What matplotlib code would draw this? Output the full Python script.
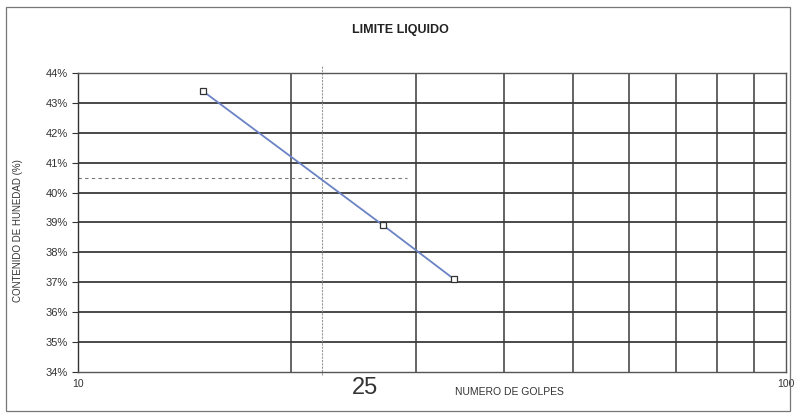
import numpy as np
import matplotlib
matplotlib.use("Agg")
import matplotlib.pyplot as plt
from matplotlib.patches import Rectangle
from matplotlib.ticker import FixedLocator, NullFormatter, NullLocator
from matplotlib import font_manager

# fuente estrecha si existe, si no la normal
nombres = {f.name for f in font_manager.fontManager.ttflist}
estrecha = [n for n in ['Liberation Sans Narrow', 'DejaVu Sans Condensed'] if n in nombres]
plt.rcParams['font.family'] = estrecha + ['Liberation Sans', 'DejaVu Sans']

# ensayo de limite liquido
golpes = [15, 27, 34]
humedad = [43.4, 38.9, 37.1]
ll_humedad = 40.5
ll_golpes_fin = 29.2
golpes_ref = 22.1
y_ticks = list(range(34, 45))
x_ticks = [10, 100]
x_grid = [20, 30, 40, 50, 60, 70, 80, 90]

fig = plt.figure(figsize=(7.94, 4.16), dpi=100)
ax = fig.add_axes([0.0982, 0.1058, 0.8917, 0.7187])

ax.set_xscale('log')
ax.set_xlim(10, 100)
ax.set_ylim(34, 44)

# rejilla
for y in y_ticks[1:]:
    ax.axhline(y, color='#3a3a3a', lw=1.3, zorder=1)
for x in x_grid:
    ax.axvline(x, color='#3a3a3a', lw=1.1, zorder=1)

ax.axhline(ll_humedad, xmin=0, xmax=np.log10(ll_golpes_fin / 10), color='#777777',
           lw=0.8, ls=(0, (3, 3)), zorder=2)
ax.plot([golpes_ref, golpes_ref], [33.9, 44.25], color='#999999', lw=0.8,
        ls=(0, (2, 1)), clip_on=False, zorder=2)

ax.plot(golpes, humedad, color='#6b83c4', lw=1.3, marker='s', ms=4.5,
        mfc='white', mec='#333333', mew=0.9, zorder=3)

ax.xaxis.set_major_locator(FixedLocator(x_ticks))
ax.xaxis.set_minor_locator(NullLocator())
ax.xaxis.set_minor_formatter(NullFormatter())
ax.set_xticklabels(['10', '100'])
ax.tick_params(axis='x', length=0, labelsize=7.5, labelcolor='#333333', pad=5)

ax.set_yticks(y_ticks)
ax.set_yticklabels([f'{v}%' for v in y_ticks])
ax.tick_params(axis='y', length=4, width=0.8, color='#333333', labelsize=8,
               labelcolor='#333333', pad=3)

for side in ['top', 'right', 'bottom']:
    ax.spines[side].set_color('#555555')
    ax.spines[side].set_linewidth(1.0)
ax.spines['left'].set_color('#333333')
ax.spines['left'].set_linewidth(1.0)

fig.text(0.504, 0.927, 'LIMITE LIQUIDO', ha='center', va='center',
         fontsize=9, fontweight='bold', color='#222222')
fig.text(0.023, 0.445, 'CONTENIDO DE HUNEDAD (%)', rotation=90, ha='center',
         va='center', fontsize=7, color='#333333')
fig.text(0.46, 0.067, '25', ha='center', va='center', fontsize=17,
         color='#333333')
fig.text(0.573, 0.057, 'NUMERO DE GOLPES', ha='left', va='center',
         fontsize=7.5, color='#333333')

fig.patches.append(Rectangle((0.007, 0.012), 0.988, 0.972, transform=fig.transFigure,
                             fill=False, edgecolor='#777777', lw=0.9))

fig.savefig('out.png', dpi=100)
